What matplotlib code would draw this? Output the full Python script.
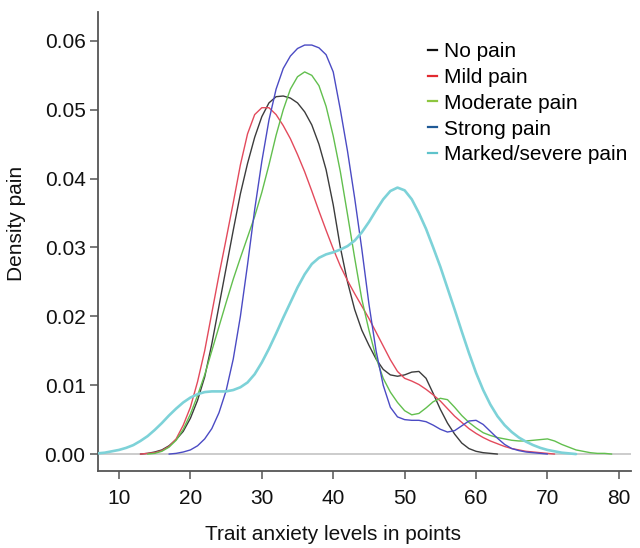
import numpy as np
import matplotlib
matplotlib.use("Agg")
import matplotlib.pyplot as plt
from matplotlib.lines import Line2D

plt.rcParams['font.family'] = ['Liberation Sans', 'DejaVu Sans']

# ---- data ----
labels = ["No pain", "Mild pain", "Moderate pain", "Strong pain", "Marked/severe pain"]

x_none = list(range(13, 64))
y_none = [0.0, 0.0001, 0.0003, 0.0006, 0.0012, 0.0021, 0.0033, 0.0052, 0.0078, 0.0112,
          0.0160, 0.0215, 0.0270, 0.0325, 0.0378, 0.0422, 0.0460, 0.0490, 0.0510, 0.0519,
          0.0520, 0.0517, 0.0510, 0.0497, 0.0478, 0.0450, 0.0413, 0.0362, 0.0300, 0.0250,
          0.0210, 0.0180, 0.0158, 0.0138, 0.0123, 0.0115, 0.0113, 0.0115, 0.0119, 0.0120,
          0.0110, 0.0088, 0.0065, 0.0045, 0.0029, 0.0016, 0.0008, 0.0004, 0.0002, 0.0001,
          0.0]

x_mild = list(range(13, 72))
y_mild = [0.0, 0.0001, 0.0002, 0.0005, 0.0011, 0.0022, 0.0042, 0.0068, 0.0105, 0.0150,
          0.0205, 0.0260, 0.0312, 0.0365, 0.0420, 0.0465, 0.0493, 0.0503, 0.0503, 0.0493,
          0.0477, 0.0458, 0.0435, 0.0410, 0.0382, 0.0353, 0.0325, 0.0298, 0.0273, 0.0252,
          0.0233, 0.0215, 0.0197, 0.0177, 0.0157, 0.0137, 0.0120, 0.0110, 0.0106, 0.0101,
          0.0094, 0.0086, 0.0077, 0.0066, 0.0055, 0.0046, 0.0037, 0.0030, 0.0024, 0.0019,
          0.0015, 0.0011, 0.0008, 0.0006, 0.0004, 0.0003, 0.0002, 0.0001, 0.0]

x_mod = list(range(14, 80))
y_mod = [0.0, 0.0001, 0.0004, 0.0010, 0.0020, 0.0036, 0.0058, 0.0085, 0.0115, 0.0150,
         0.0185, 0.0220, 0.0254, 0.0285, 0.0315, 0.0345, 0.0380, 0.0420, 0.0463, 0.0500,
         0.0530, 0.0548, 0.0555, 0.0550, 0.0535, 0.0505, 0.0462, 0.0410, 0.0348, 0.0285,
         0.0225, 0.0180, 0.0140, 0.0110, 0.0090, 0.0075, 0.0063, 0.0057, 0.0059, 0.0067,
         0.0076, 0.0081, 0.0079, 0.0068, 0.0056, 0.0046, 0.0038, 0.0031, 0.0027, 0.0024,
         0.0022, 0.0020, 0.0019, 0.0019, 0.0020, 0.0021, 0.0022, 0.0019, 0.0014, 0.0010,
         0.0006, 0.0004, 0.0002, 0.0001, 0.0001, 0.0]

x_strong = list(range(17, 71))
y_strong = [0.0, 0.0001, 0.0003, 0.0006, 0.0012, 0.0022, 0.0037, 0.0060, 0.0092, 0.0138,
            0.0200, 0.0275, 0.0355, 0.0425, 0.0485, 0.0530, 0.0560, 0.0578, 0.0589, 0.0594,
            0.0594, 0.0590, 0.0580, 0.0555, 0.0500, 0.0440, 0.0372, 0.0298, 0.0218, 0.0150,
            0.0100, 0.0068, 0.0054, 0.0050, 0.0049, 0.0049, 0.0047, 0.0042, 0.0036, 0.0032,
            0.0034, 0.0041, 0.0048, 0.0049, 0.0043, 0.0033, 0.0023, 0.0014, 0.0008, 0.0005,
            0.0003, 0.0002, 0.0001, 0.0]

x_severe = list(range(7, 75))
y_severe = [0.0001, 0.0002, 0.0004, 0.0006, 0.0009, 0.0013, 0.0019, 0.0026, 0.0035, 0.0045,
            0.0056, 0.0066, 0.0075, 0.0082, 0.0087, 0.0090, 0.0091, 0.0091, 0.0091, 0.0093,
            0.0097, 0.0104, 0.0116, 0.0133, 0.0153, 0.0175, 0.0198, 0.0220, 0.0242, 0.0261,
            0.0276, 0.0285, 0.0290, 0.0293, 0.0297, 0.0302, 0.0310, 0.0322, 0.0337, 0.0354,
            0.0370, 0.0382, 0.0387, 0.0383, 0.0370, 0.0350, 0.0327, 0.0300, 0.0272, 0.0241,
            0.0210, 0.0178, 0.0147, 0.0118, 0.0093, 0.0072, 0.0055, 0.0042, 0.0032, 0.0024,
            0.0018, 0.0013, 0.0009, 0.0006, 0.0004, 0.0002, 0.0001, 0.0]

x_ticks = [10, 20, 30, 40, 50, 60, 70, 80]
y_ticks = [0.00, 0.01, 0.02, 0.03, 0.04, 0.05, 0.06]

line_colors = ["#3c3c3c", "#e34a5c", "#62bf4e", "#4b4bc4", "#7dd2d8"]
legend_colors = ["#111111", "#e22a30", "#8dc63f", "#1f5a96", "#5ec3cb"]
line_widths = [1.0, 1.0, 1.0, 1.0, 1.9]

# ---- figure ----
fig = plt.figure(figsize=(6.4, 5.48), dpi=100)
L, R, B, T = 98 / 640, 631 / 640, 1 - 471 / 548, 1 - 12 / 548
ax = fig.add_axes([L, B, R - L, T - B])

ax.axhline(0, color="#c4c4c4", lw=1.2, zorder=1)

series = [(x_none, y_none), (x_mild, y_mild), (x_mod, y_mod),
          (x_strong, y_strong), (x_severe, y_severe)]
order = [4, 0, 1, 2, 3]
for i in order:
    xs, ys = series[i]
    ax.plot(xs, ys, color=line_colors[i], lw=line_widths[i], zorder=2 + i,
            solid_capstyle="round", solid_joinstyle="round")

ax.set_xlim(7.06, 81.7)
ax.set_ylim(-0.00246, 0.0642)
ax.set_xticks(x_ticks)
ax.set_yticks(y_ticks)
ax.set_yticklabels([f"{v:.2f}" for v in y_ticks])

for s in ["top", "right"]:
    ax.spines[s].set_visible(False)
for s in ["left", "bottom"]:
    ax.spines[s].set_color("#555555")
    ax.spines[s].set_linewidth(1.3)
ax.tick_params(axis="both", direction="out", length=6, width=1.1, color="#555555",
               labelsize=15, labelcolor="#111111", pad=3)
ax.tick_params(axis="x", pad=7)

ax.set_xlabel("Trait anxiety levels in points", fontsize=15, color="#111111")
ax.xaxis.set_label_coords(0.441, -0.118)
ax.set_ylabel("Density pain", fontsize=15, color="#111111")
ax.yaxis.set_label_coords(-0.135, 0.54)

handles = [Line2D([0], [0], color=c, lw=1.6) for c in legend_colors]
ax.legend(handles, labels, loc="upper left", bbox_to_anchor=(428 / 640, 1 - 42 / 548),
          bbox_transform=fig.transFigure, frameon=False, fontsize=15,
          handlelength=0.45, handletextpad=0.3, borderpad=0, borderaxespad=0,
          labelspacing=0.33)

fig.savefig("out.png", dpi=100)
